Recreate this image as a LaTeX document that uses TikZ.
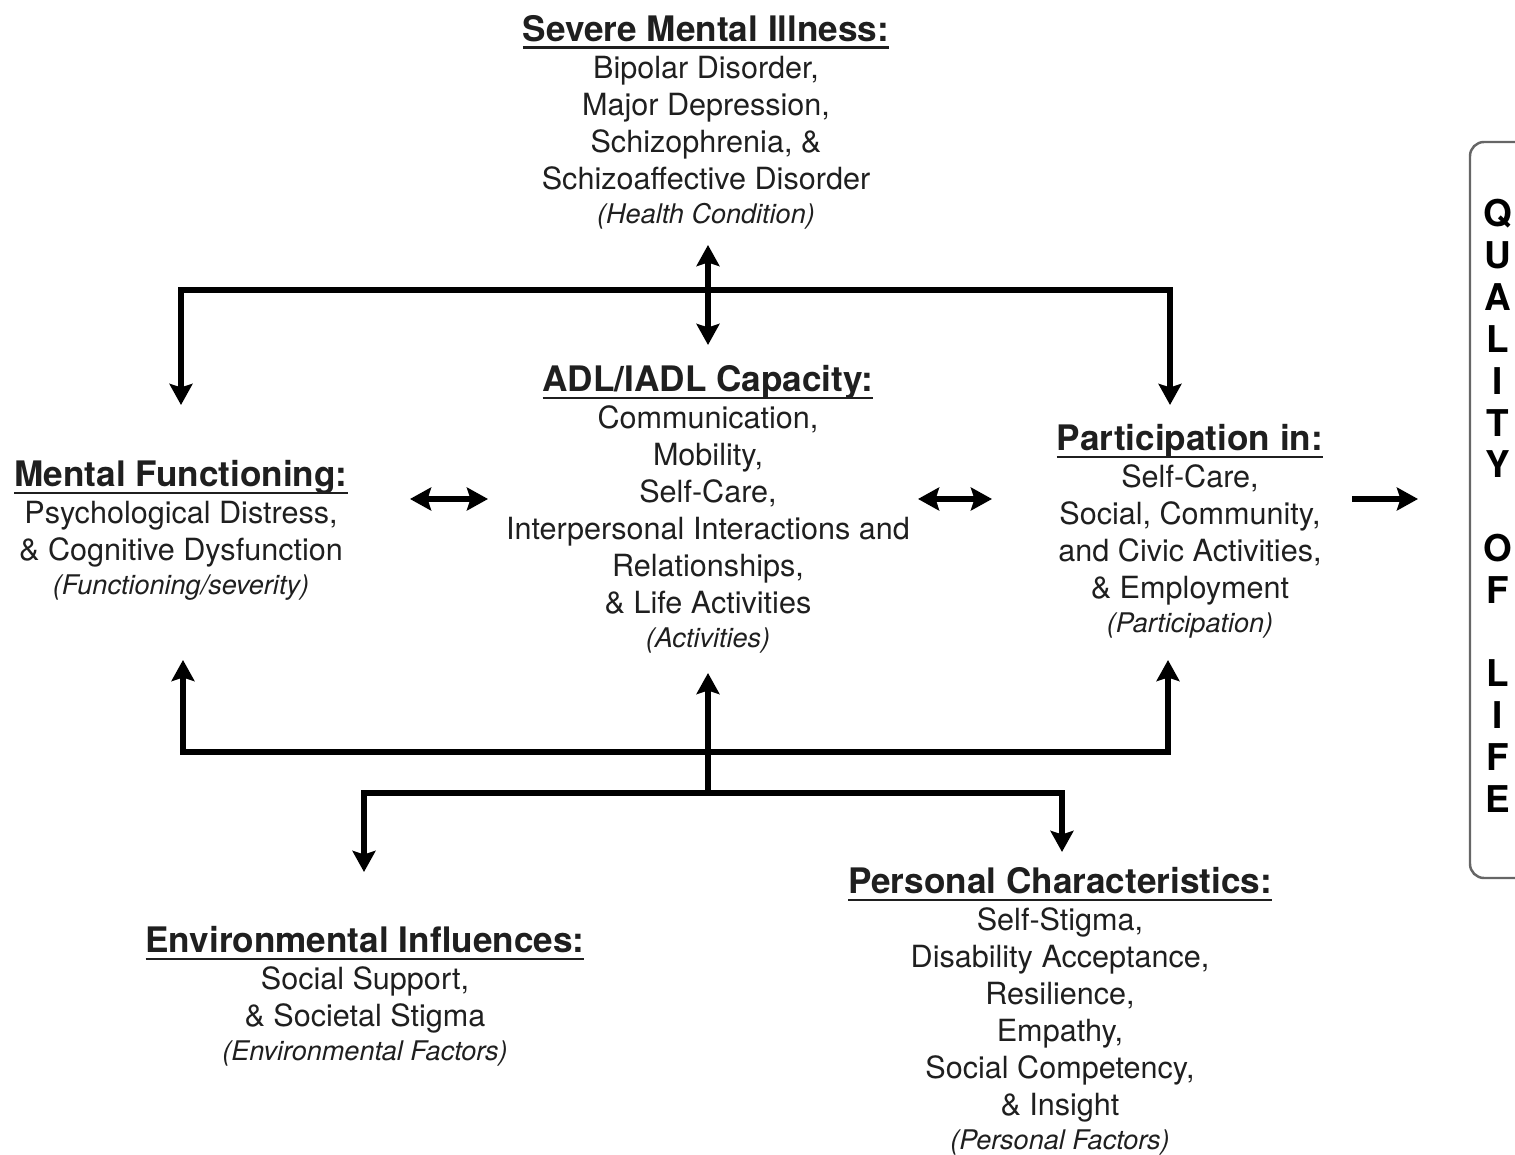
\documentclass[tikz,border=0pt]{standalone}
\usepackage{fontspec}
\setmainfont{TeX Gyre Heros}
\usetikzlibrary{arrows.meta}

\newcommand{\hd}[1]{{\fontsize{10}{10.5}\selectfont\bfseries\setbox0\hbox{#1}\rlap{\rule[-2pt]{\wd0}{0.65pt}}\box0}}
\newcommand{\lbl}[1]{{\fontsize{7.7}{10.5}\selectfont\itshape #1}}

\tikzset{
  block/.style={align=center, inner sep=0pt, anchor=north, text=black!88,
    font=\fontsize{8.7}{10.5}\selectfont},
  link/.style={line width=1.45pt, line join=miter, -{Stealth[length=6pt,width=6.5pt,inset=1pt]}},
  both/.style={line width=1.45pt, line join=miter, {Stealth[length=6pt,width=6.5pt,inset=1pt]}-{Stealth[length=6pt,width=6.5pt,inset=1pt]}}
}

\begin{document}
\begin{tikzpicture}
\useasboundingbox (0,0) rectangle (15.15,11.54);
\clip (0,0) rectangle (15.15,11.54);

% the six blocks
\node[block] (smi) at (7.06,11.39) {\hd{Severe Mental Illness:}\\ Bipolar Disorder,\\ Major Depression,\\
  Schizophrenia, \&\\ Schizoaffective Disorder\\[-0.8pt] \lbl{(Health Condition)}};
\node[block] (adl) at (7.08,7.89) {\hd{ADL/IADL Capacity:}\\ Communication,\\ Mobility,\\ Self-Care,\\
  Interpersonal Interactions and\\ Relationships,\\ \& Life Activities\\[-0.8pt] \lbl{(Activities)}};
\node[block] (mf) at (1.81,6.94) {\hd{Mental Functioning:}\\ Psychological Distress,\\
  \& Cognitive Dysfunction\\[-0.8pt] \lbl{(Functioning/severity)}};
\node[block] (part) at (11.90,7.30) {\hd{Participation in:}\\ Self-Care,\\ Social, Community,\\
  and Civic Activities,\\ \& Employment\\[-0.8pt] \lbl{(Participation)}};
\node[block] (env) at (3.65,2.28) {\hd{Environmental Influences:}\\ Social Support,\\
  \& Societal Stigma\\[-0.8pt] \lbl{(Environmental Factors)}};
\node[block] (pers) at (10.60,2.87) {\hd{Personal Characteristics:}\\ Self-Stigma,\\ Disability Acceptance,\\
  Resilience,\\ Empathy,\\ Social Competency,\\ \& Insight\\[-0.8pt] \lbl{(Personal Factors)}};

% quality of life
\node[align=center, inner sep=0pt, font=\fontsize{10.5}{11.9}\selectfont\bfseries] (qol) at (14.98,6.48)
  {Q\\U\\A\\L\\I\\T\\Y\\[11.9pt] O\\F\\[11.9pt] L\\I\\F\\E};
\draw[black!60, line width=0.7pt, rounded corners=4pt] (15.4,10.12) -- (14.70,10.12) -- (14.70,2.76) -- (15.4,2.76);

% end points
\coordinate (smiS) at (7.08,9.09);
\coordinate (adlN) at (7.08,8.09);
\coordinate (topL) at (1.81,8.64);
\coordinate (topR) at (11.70,8.64);
\coordinate (mfN) at (1.81,7.49);
\coordinate (partN) at (11.70,7.49);
\coordinate (mfE) at (4.10,6.55);
\coordinate (adlW) at (4.88,6.55);
\coordinate (adlE) at (9.18,6.55);
\coordinate (partW) at (9.92,6.55);
\coordinate (partE) at (13.52,6.55);
\coordinate (qolW) at (14.18,6.55);
\coordinate (mfS) at (1.83,4.94);
\coordinate (botL) at (1.83,4.02);
\coordinate (botR) at (11.68,4.02);
\coordinate (partS) at (11.68,4.94);
\coordinate (adlS) at (7.08,4.81);
\coordinate (midJ) at (7.08,3.61);
\coordinate (lowL) at (3.64,3.61);
\coordinate (lowR) at (10.62,3.61);
\coordinate (envN) at (3.64,2.82);
\coordinate (persN) at (10.62,3.02);

% connectors
\draw[both] (smiS) -- (adlN);
\draw[both] (mfN) -- (topL) -- (topR) -- (partN);
\draw[both] (mfE) -- (adlW);
\draw[both] (adlE) -- (partW);
\draw[link] (partE) -- (qolW);
\draw[both] (mfS) -- (botL) -- (botR) -- (partS);
\draw[link] (midJ) -- (adlS);
\draw[both] (envN) -- (lowL) -- (lowR) -- (persN);
\end{tikzpicture}
\end{document}
